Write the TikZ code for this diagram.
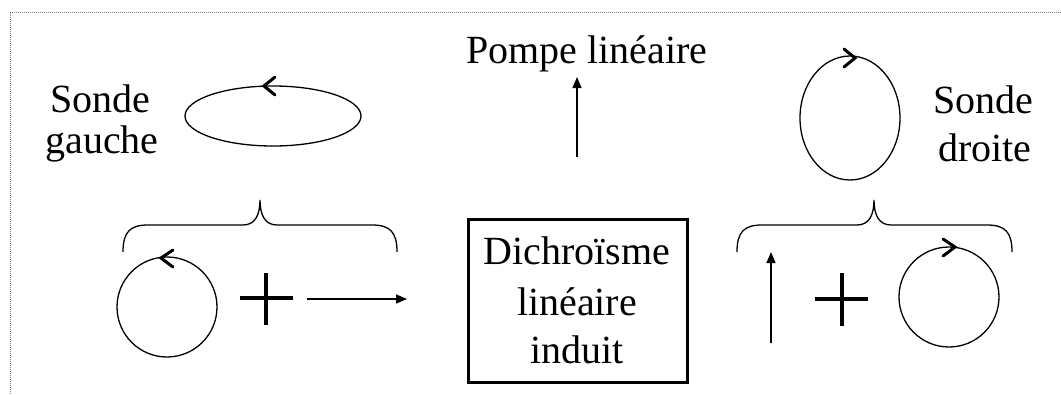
\documentclass[tikz,border=0pt]{standalone}
\usepackage{fontspec}
\setmainfont{Liberation Serif}
\usetikzlibrary{arrows.meta}
\tikzset{
  lbl/.style={font=\fontsize{40}{46}\selectfont, inner sep=0pt, anchor=base},
  thin line/.style={line width=1.3pt},
  chev/.style={line width=3pt, line cap=round, line join=miter},
  plus/.style={line width=4pt},
  arr/.style={line width=1.3pt, -{Triangle[length=11pt,width=9pt]}},
  brace/.style={line width=1.3pt},
  frame/.style={gray, line width=1pt, dash pattern=on 1pt off 1pt},
  bigbox/.style={draw, line width=3pt, minimum width=219pt, minimum height=163pt, inner sep=0pt}
}
\begin{document}
\begin{tikzpicture}[x=1pt,y=-1pt]
\useasboundingbox (0,0) rectangle (1061,394);
% frame
\coordinate (fa) at (10,394);
\coordinate (fb) at (10,12);
\coordinate (fc) at (1061,12);
\draw[frame] (fa) -- (fb) -- (fc);

% texts
\node[lbl] (sg1) at (100,112) {Sonde};
\node[lbl] (sg2) at (102,153) {gauche};
\node[lbl] (sd1) at (983,113) {Sonde};
\node[lbl] (sd2) at (985,161) {droite};
\node[lbl] (pl) at (587,63) {Pompe linéaire};

% central box
\node[bigbox] (box) at (577.5,300.5) {};
\node[lbl] (d1) at (577,264) {Dichroïsme};
\node[lbl] (d2) at (577,315) {linéaire};
\node[lbl] (d3) at (577,363) {induit};

% pump arrow
\coordinate (pa0) at (577,157);
\coordinate (pa1) at (577,77);
\draw[arr] (pa0) -- (pa1);

% left ellipse
\draw[thin line] (273,116) ellipse [x radius=88, y radius=30];
\draw[chev] (275,77) -- (264,86) -- (275,95);

% right ellipse
\draw[thin line] (850,118) ellipse [x radius=50, y radius=62];
\draw[chev] (844,49) -- (855,58) -- (844,67);

% left brace
\draw[brace] (123,252) .. controls (123,232) and (130,225) .. (148,225)
  -- (243,225) .. controls (255,225) and (260,215) .. (260,200)
  .. controls (260,215) and (265,225) .. (277,225)
  -- (372,225) .. controls (390,225) and (397,232) .. (397,252);

% right brace
\draw[brace] (737,252) .. controls (737,232) and (744,225) .. (762,225)
  -- (857,225) .. controls (869,225) and (874,215) .. (874,200)
  .. controls (874,215) and (879,225) .. (891,225)
  -- (987,225) .. controls (1005,225) and (1012,232) .. (1012,252);

% left circle
\draw[thin line] (167,307) circle [radius=50];
\draw[chev] (173,250) -- (161,258) -- (173,267);

% left plus
\draw[plus] (240,298) -- (293,298);
\draw[plus] (266,273) -- (266,325);

% horizontal arrow
\coordinate (ha0) at (307,299);
\coordinate (ha1) at (407,299);
\draw[arr] (ha0) -- (ha1);

% right vertical arrow
\coordinate (va0) at (771,343);
\coordinate (va1) at (771,252);
\draw[arr] (va0) -- (va1);

% right plus
\draw[plus] (815,299) -- (868,299);
\draw[plus] (842,273) -- (842,326);

% right circle
\draw[thin line] (949,297) circle [radius=50];
\draw[chev] (943,239) -- (955,247) -- (943,256);
\end{tikzpicture}
\end{document}
